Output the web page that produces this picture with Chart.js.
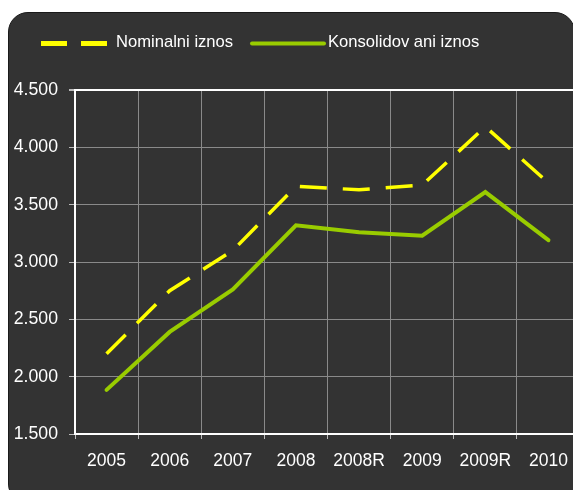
<!DOCTYPE html>
<html><head><meta charset="utf-8">
<script src="https://cdn.jsdelivr.net/npm/chart.js@4/dist/chart.umd.min.js"></script>
<style>
html,body{margin:0;padding:0;background:#fff;width:573px;height:490px;overflow:hidden;}
#panel{position:absolute;left:8px;top:12px;width:567px;height:492px;background:#333333;border:1px solid #1a1a1a;border-radius:20px;box-sizing:border-box;}
#c{position:absolute;left:0;top:0;}
</style></head><body>
<div id="panel"></div>
<canvas id="c" width="590" height="490"></canvas>
<script>
const categories = ['2005','2006','2007','2008','2008R','2009','2009R','2010'];
const nominalni = [2200, 2750, 3100, 3660, 3630, 3670, 4180, 3690];
const konsolidovani = [1885, 2390, 2760, 3320, 3260, 3230, 3610, 3190];
const seriesNames = ['Nominalni iznos', 'Konsolidov ani iznos'];
const yTicks = [1500, 2000, 2500, 3000, 3500, 4000, 4500];

const FONT = '"Liberation Sans", Arial, sans-serif';
const fmt = v => String(v).replace(/\B(?=(\d{3})+(?!\d))/g, '.');

const legendPlugin = {
  id: 'customLegend',
  afterDraw(chart) {
    const ctx = chart.ctx;
    const ds = chart.data.datasets;
    const items = [
      {x0: 41, x1: 107, tx: 116, d: ds[0], w: 5, dash: [26, 14], cap: 'butt'},
      {x0: 252, x1: 324, tx: 328, d: ds[1], w: 4, dash: [], cap: 'round'}
    ];
    const y = 43.5;
    ctx.save();
    items.forEach(it => {
      ctx.beginPath();
      ctx.strokeStyle = it.d.borderColor;
      ctx.lineWidth = it.w;
      ctx.lineCap = it.cap;
      ctx.setLineDash(it.dash);
      ctx.moveTo(it.x0, y);
      ctx.lineTo(it.x1, y);
      ctx.stroke();
      ctx.setLineDash([]);
      ctx.fillStyle = '#ffffff';
      ctx.font = '16.6px ' + FONT;
      ctx.textBaseline = 'middle';
      ctx.textAlign = 'left';
      ctx.fillText(it.d.label, it.tx, 42);
    });
    ctx.restore();
  }
};

new Chart(document.getElementById('c'), {
  type: 'line',
  data: {
    labels: categories,
    datasets: [
      {label: seriesNames[0], data: nominalni, borderColor: '#ffff00', borderWidth: 3.5,
       borderDash: [27, 16], borderCapStyle: 'butt', pointRadius: 0, tension: 0, fill: false},
      {label: seriesNames[1], data: konsolidovani, borderColor: '#99cc00', borderWidth: 4,
       borderCapStyle: 'round', borderJoinStyle: 'miter', pointRadius: 0, tension: 0, fill: false}
    ]
  },
  options: {
    responsive: false,
    animation: false,
    layout: {padding: {top: 90, right: 10, bottom: 0, left: 0}},
    plugins: {legend: {display: false}, tooltip: {enabled: false}},
    scales: {
      x: {
        offset: true,
        afterFit: s => { s.height = 56; },
        grid: {offset: true, color: '#8a8a8a', lineWidth: 1, tickLength: 5, tickColor: '#bbbbbb'},
        border: {color: '#ffffff', width: 2},
        ticks: {color: '#ffffff', font: {family: FONT, size: 17.5}, padding: 12, maxRotation: 0, autoSkip: false}
      },
      y: {
        min: 1500, max: 4500,
        afterFit: s => { s.width = 75; },
        afterBuildTicks: s => { s.ticks = yTicks.map(v => ({value: v})); },
        grid: {
          color: c => (c.tick && c.tick.value === 4500) ? '#ffffff' : '#8a8a8a',
          lineWidth: c => (c.tick && c.tick.value === 4500) ? 2 : 1,
          tickLength: 6, tickColor: '#bbbbbb'
        },
        border: {color: '#ffffff', width: 2},
        ticks: {color: '#ffffff', font: {family: FONT, size: 17.7}, padding: 11, callback: v => fmt(v)}
      }
    }
  },
  plugins: [legendPlugin]
});
</script>
</body></html>
